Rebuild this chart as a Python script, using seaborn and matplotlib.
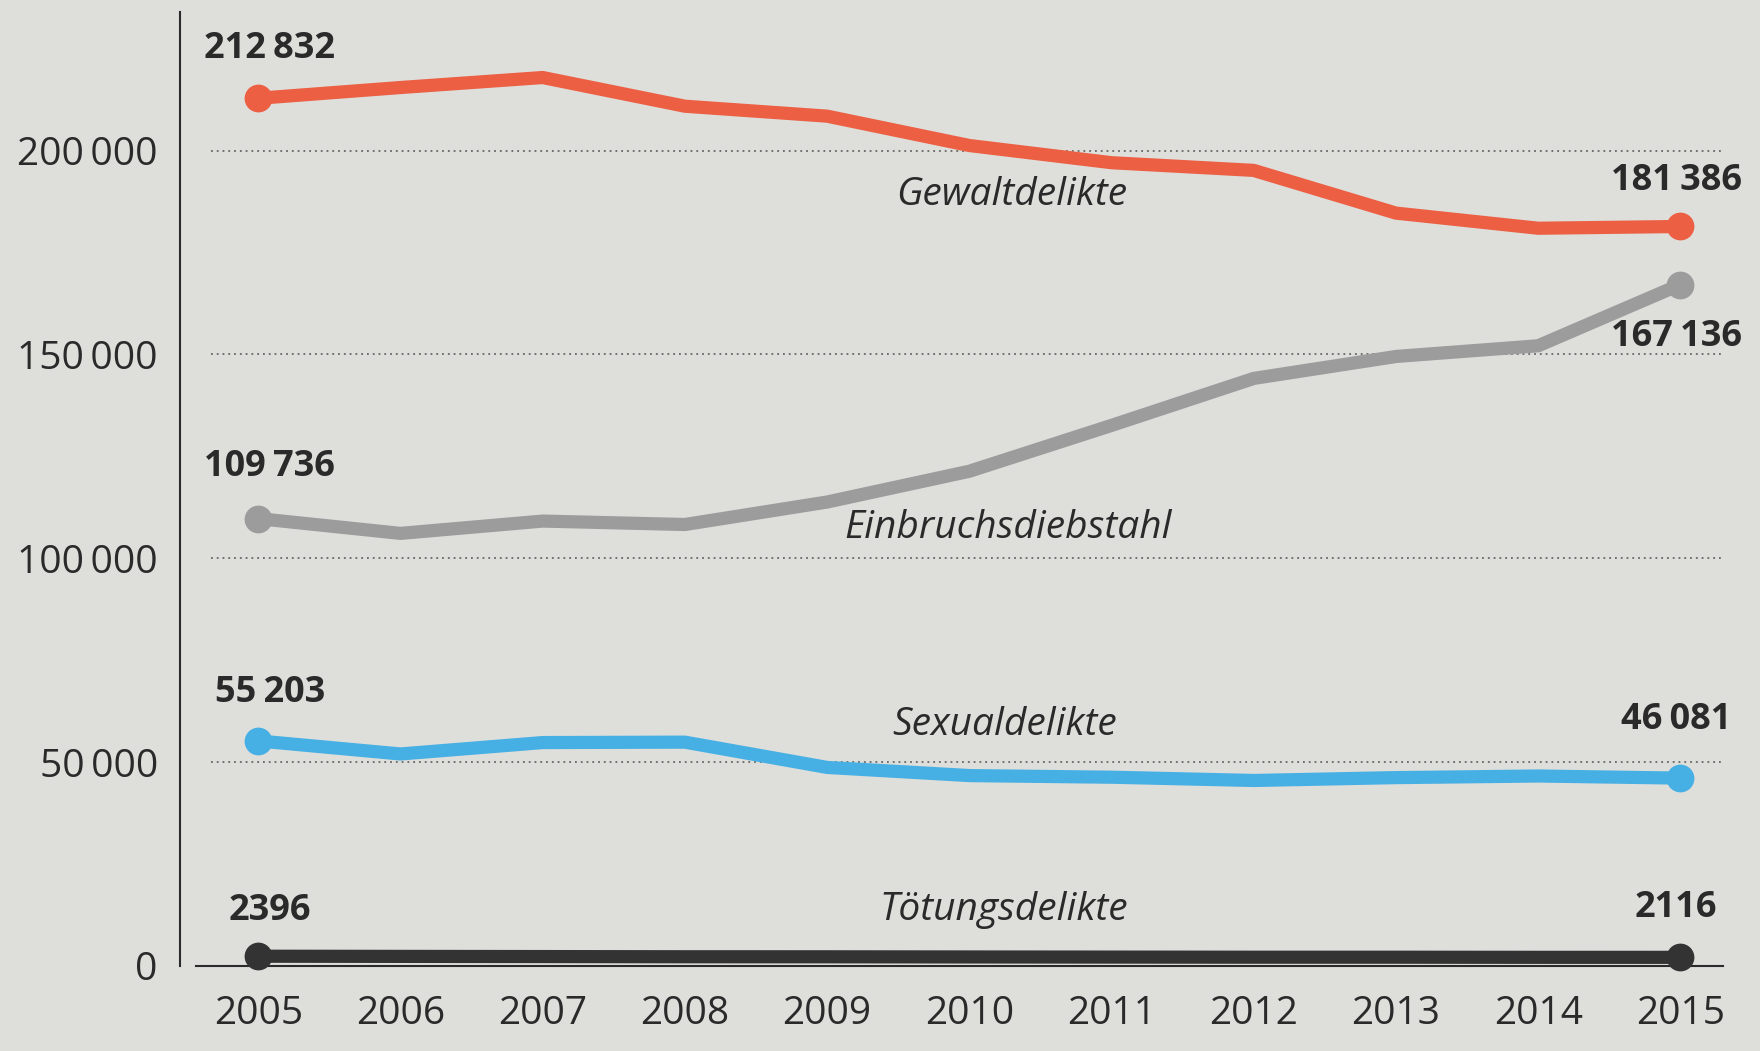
import matplotlib
matplotlib.use("Agg")
import matplotlib.pyplot as plt
import seaborn as sns
import pandas as pd

years = [2005, 2006, 2007, 2008, 2009, 2010, 2011, 2012, 2013, 2014, 2015]
gewalt = [212832, 215471, 217923, 210885, 208446, 201243, 197030, 195143, 184666, 180955, 181386]
einbruch = [109736, 106107, 109128, 108284, 113800, 121347, 132595, 144117, 149500, 152123, 167136]
sexual = [55203, 52000, 54800, 54900, 48700, 46700, 46300, 45500, 46200, 46600, 46081]
toetung = [2396, 2350, 2310, 2260, 2250, 2210, 2180, 2150, 2150, 2120, 2116]

series_names = ["Gewaltdelikte", "Einbruchsdiebstahl", "Sexualdelikte", "Tötungsdelikte"]
series_colors = ["#ec5f43", "#9c9c9c", "#46b0e4", "#333333"]
yticks = [0, 50000, 100000, 150000, 200000]

BG = "#dededb"

sns.set_theme(style="white")
plt.rcParams["font.family"] = ["Open Sans", "DejaVu Sans"]

df = pd.DataFrame({"Jahr": years * 4,
                   "Wert": gewalt + einbruch + sexual + toetung,
                   "Reihe": sum([[n] * len(years) for n in series_names], [])})

fig = plt.figure(figsize=(17.6, 10.51), dpi=100, facecolor=BG)
ax = fig.add_axes([0.1023, 0.0809, 0.8767, 0.9077])
ax.set_facecolor(BG)

for name, col in zip(series_names, series_colors):
    sub = df[df["Reihe"] == name]
    sns.lineplot(data=sub, x="Jahr", y="Wert", ax=ax, color=col, linewidth=9.5,
                 marker="o", markersize=20, markevery=[0, len(years) - 1],
                 markeredgewidth=0, solid_joinstyle="round", solid_capstyle="round",
                 clip_on=False, zorder=3)

ax.set_xlim(2004.45, 2015.3)
ax.set_ylim(0, 234000)

# dotted gridlines
for v in yticks[1:]:
    ax.axhline(v, xmin=0.02, xmax=1.0, color="#666666", linestyle=(0, (1, 2.2)),
               linewidth=1.3, zorder=1)

def fmt(v):
    if v < 10000:
        return str(v)
    return f"{v:,}".replace(",", "\u2009")

ax.set_yticks(yticks)
ax.set_yticklabels([fmt(v) for v in yticks])
ax.set_xticks(years)
ax.set_xticklabels([str(y) for y in years])
ax.tick_params(axis="both", labelsize=28, colors="#2a2a2a", length=12, width=1.5,
               direction="out")
ax.tick_params(axis="y", pad=4)
ax.tick_params(axis="x", pad=9)
ax.set_xlabel("")
ax.set_ylabel("")

for s in ["top", "right"]:
    ax.spines[s].set_visible(False)
ax.spines["left"].set_color("#2a2a2a")
ax.spines["left"].set_linewidth(1.5)
ax.spines["bottom"].set_color("#2a2a2a")
ax.spines["bottom"].set_linewidth(1.5)
ax.spines["bottom"].set_bounds(2004.56, 2015.3)

# series names
name_pos = [(2010.3, 189000), (2010.27, 107500), (2010.25, 59000), (2010.24, 13700)]
for name, (x, y) in zip(series_names, name_pos):
    ax.text(x, y, name, fontsize=28, style="italic", color="#2a2a2a",
            ha="center", va="center")

# end labels
all_series = [gewalt, einbruch, sexual, toetung]
left_pos = [225000, 122500, 67000, 13500]
right_pos = [192600, 154200, 60400, 14200]
for vals, yl, yr in zip(all_series, left_pos, right_pos):
    ax.text(years[0] + 0.08, yl, fmt(vals[0]), fontsize=26, fontweight="bold",
            color="#2a2a2a", ha="center", va="center")
    ax.text(years[-1] - 0.03, yr, fmt(vals[-1]), fontsize=26, fontweight="bold",
            color="#2a2a2a", ha="center", va="center")

fig.savefig("out.png", dpi=100, facecolor=BG)
